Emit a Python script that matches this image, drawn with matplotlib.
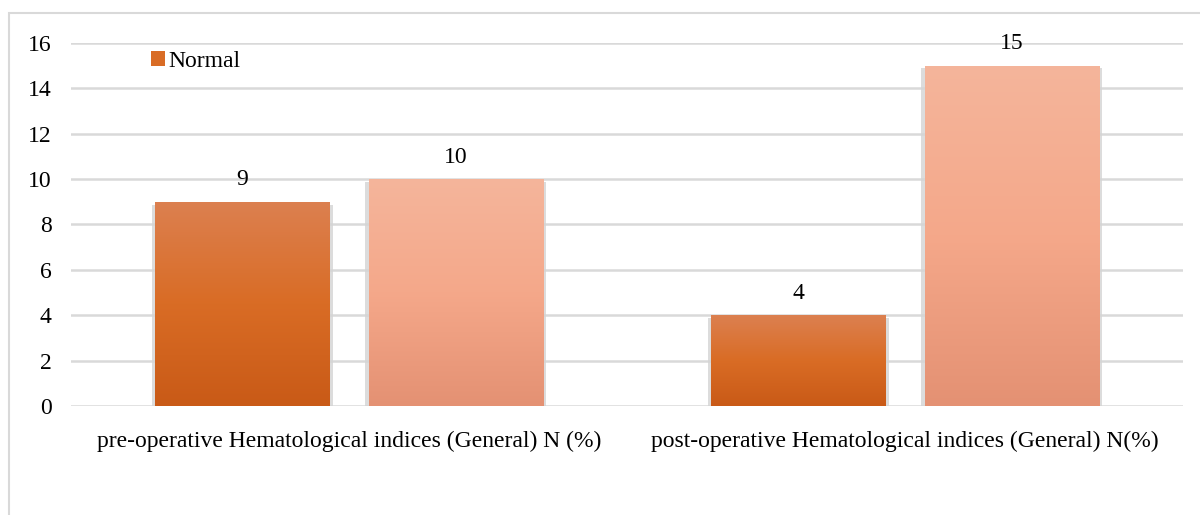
"""Grouped bar chart: pre/post-operative hematological indices."""

import matplotlib
matplotlib.use("Agg")
import matplotlib.pyplot as plt
import numpy as np
from matplotlib.colors import LinearSegmentedColormap
from matplotlib.patches import Rectangle

categories = [
    "pre-operative Hematological indices (General) N (%)",
    "post-operative Hematological indices (General) N(%)",
]
normal = [9, 4]
other = [10, 15]
series_labels = ["Normal", "_nolegend_"]
y_ticks = [0, 2, 4, 6, 8, 10, 12, 14, 16]

# gradient top -> bottom for each series
_GRADIENTS = [
    ["#dc8050", "#d96c25", "#c95a17"],
    ["#f4b59b", "#f5a88a", "#e49173"],
]

plt.rcParams["font.family"] = ["Liberation Serif", "DejaVu Serif"]
FS = 17

fig = plt.figure(figsize=(12, 5.15), dpi=100)
ax = fig.add_axes([0.0592, 0.2117, 0.9266, 0.7048])

# outer chart border
fig.patches.append(Rectangle((9 / 1200, -0.1), 1.2, 1.1 - 13 / 515,
                             transform=fig.transFigure, fill=False,
                             edgecolor="#d9d9d9", linewidth=1.5))

x = np.arange(len(categories))
width = 0.313
offset = 0.192

for i, (vals, label) in enumerate(zip([normal, other], series_labels)):
    pos = x + (i * 2 - 1) * offset
    # soft shadow behind bars
    ax.bar(pos, vals, width=width + 0.012, bottom=-0.12, color="#d4d4d4",
           zorder=2, alpha=0.8)
    bars = ax.bar(pos, vals, width=width, color=_GRADIENTS[i][1],
                  label=label, zorder=3)
    cmap = LinearSegmentedColormap.from_list(f"g{i}", _GRADIENTS[i][::-1])
    grad = np.linspace(0, 1, 256).reshape(-1, 1)
    for b, v in zip(bars, vals):
        x0, y0 = b.get_x(), b.get_y()
        w, h = b.get_width(), b.get_height()
        im = ax.imshow(grad, extent=[x0, x0 + w, y0, y0 + h], origin="lower",
                       aspect="auto", cmap=cmap, zorder=4)
        im.set_clip_path(b)
        ax.text(x0 + w / 2, h + 0.5, f"{v}",
                ha="center", va="bottom", fontsize=FS, zorder=5)

ax.set_xlim(-0.5, 1.5)
ax.set_ylim(0, 16)
ax.set_yticks(y_ticks)
ax.set_xticks(x)
ax.set_xticklabels(categories)
ax.tick_params(axis="y", length=0, pad=14, labelsize=FS)
ax.tick_params(axis="x", length=0, pad=18, labelsize=FS)
ax.grid(axis="y", color="#d9d9d9", linewidth=1.8, zorder=0)
ax.set_axisbelow(True)
for s in ax.spines.values():
    s.set_visible(False)

ax.legend(loc="upper left", bbox_to_anchor=(0.063, 1.005), frameon=False,
          fontsize=FS, handlelength=0.6, handleheight=0.6, handletextpad=0.15,
          borderaxespad=0)

fig.savefig("out.png", dpi=100)
